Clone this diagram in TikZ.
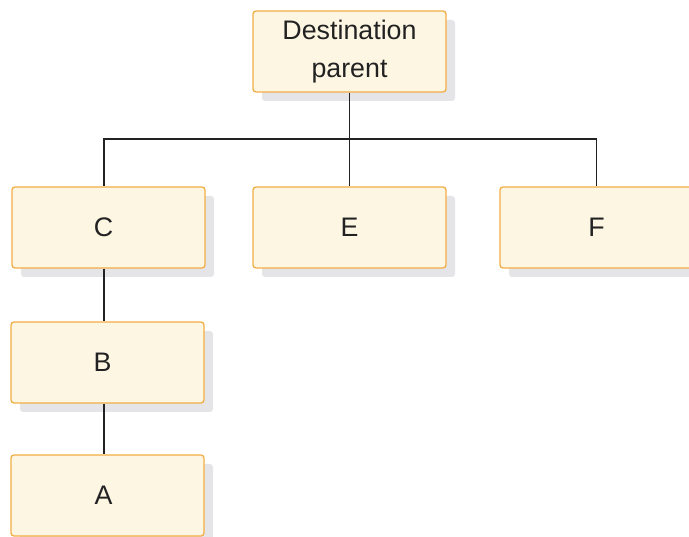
\documentclass[tikz,border=0pt]{standalone}
\usepackage{fontspec}
\setmainfont{Liberation Sans}
\usetikzlibrary{shadows}
\definecolor{boxfill}{HTML}{FDF6E3}
\definecolor{boxline}{HTML}{F2AE45}
\definecolor{shadowgray}{HTML}{E5E5E7}
\definecolor{linkcol}{HTML}{222222}
\begin{document}
\begin{tikzpicture}[x=1pt,y=-1pt,
    segbox/.style={rectangle,rounded corners=3pt,draw=boxline,line width=1.3pt,fill=boxfill,
      minimum width=193pt,minimum height=81pt,inner sep=0pt,text=linkcol,
      font=\fontsize{26.8}{37.5}\selectfont,align=center,
      drop shadow={shadow xshift=9pt,shadow yshift=-9pt,fill=shadowgray,opacity=1}},
    link/.style={draw=linkcol,line width=1.2pt}]
    \useasboundingbox (0,0) rectangle (689,537);
    \node [segbox] (P) at (349.5,51.5) {Destination\\parent};
    \node [segbox] (C) at (108.5,227.5) {\hspace*{-10pt}C};
    \node [segbox] (E) at (349.5,227.5) {E};
    \node [segbox] (F) at (596.5,227.5) {F};
    \node [segbox] (B) at (107.5,362.5) {\hspace*{-10pt}B};
    \node [segbox] (A) at (107.5,495.5) {\hspace*{-8pt}A};
    \coordinate (bus) at (349.5,139);
    \draw [link] (P.south) -- (bus);
    \draw [link] (bus) -| ([xshift=-4.5pt]C.north);
    \draw [link] (bus) -- (E.north);
    \draw [link] (bus) -| (F.north);
    \draw [link] ([xshift=-4.5pt]C.south) -- ([xshift=-3.5pt]B.north);
    \draw [link] ([xshift=-3.5pt]B.south) -- ([xshift=-3.5pt]A.north);
\end{tikzpicture}
\end{document}
